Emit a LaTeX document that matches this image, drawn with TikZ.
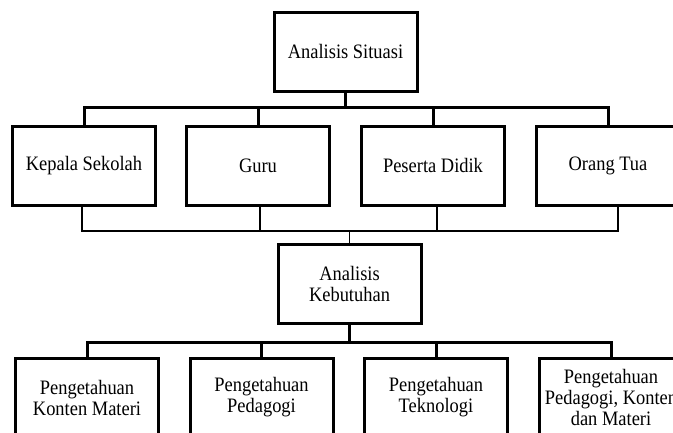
\documentclass[tikz,border=0pt]{standalone}
\usepackage{fontspec}
\setmainfont{Liberation Serif}[FakeStretch=0.9]

\begin{document}
\begin{tikzpicture}[x=1pt, y=-1pt,
 box/.style={draw, line width=3pt, minimum width=143pt, minimum height=79pt, align=center, font=\fontsize{20.5}{21}\selectfont},
 link/.style={line width=3pt},
 thinlink/.style={line width=1.4pt}]
 \clip (0,0) rectangle (673,432);
 \fill[white] (0,0) rectangle (673,432);
 \node[box] (situasi) at (345.5,51.5){Analisis Situasi};
 \node[box] (kepsek) at (84,165.5){Kepala Sekolah};
 \node[box] (guru) at (258,165.5){Guru};
 \node[box] (siswa) at (433,165.5){Peserta Didik};
 \node[box] (ortu) at (608,165.5){Orang Tua};
 \node[box] (kebutuhan) at (349.5,283.5){Analisis\\Kebutuhan};
 \node[box] (konten) at (87,397.5){Pengetahuan\\Konten Materi};
 \node[box] (pedagogi) at (261.5,397.5){Pengetahuan\\Pedagogi};
 \node[box] (teknologi) at (436,397.5){Pengetahuan\\Teknologi};
 \node[box] (pck) at (611,397.5){Pengetahuan\\Pedagogi, Konten\\dan Materi};
 % situasi -> stakeholders
 \coordinate (bus1) at (345.5,107);
 \draw[link] (situasi) -- (bus1);
 \draw[link] (kepsek.north) |- (bus1) -| (ortu.north);
 \draw[link] (guru.north) -- (guru.north |- bus1);
 \draw[link] (siswa.north) -- (siswa.north |- bus1);
 % stakeholders -> kebutuhan
 \coordinate (bus2) at (349.5,231);
 \draw[thinlink] ([xshift=-2pt]kepsek.south) |- (bus2) -| ([xshift=10pt]ortu.south);
 \draw[thinlink] ([xshift=2pt]guru.south) -- ([xshift=2pt]guru.south |- bus2);
 \draw[thinlink] ([xshift=4pt]siswa.south) -- ([xshift=4pt]siswa.south |- bus2);
 \draw[thinlink] (bus2) -- (kebutuhan);
 % kebutuhan -> pengetahuan
 \coordinate (bus3) at (349.5,342);
 \draw[link] (kebutuhan) -- (bus3);
 \draw[link] (konten.north) |- (bus3) -| (pck.north);
 \draw[link] (pedagogi.north) -- (pedagogi.north |- bus3);
 \draw[link] (teknologi.north) -- (teknologi.north |- bus3);
\end{tikzpicture}
\end{document}
